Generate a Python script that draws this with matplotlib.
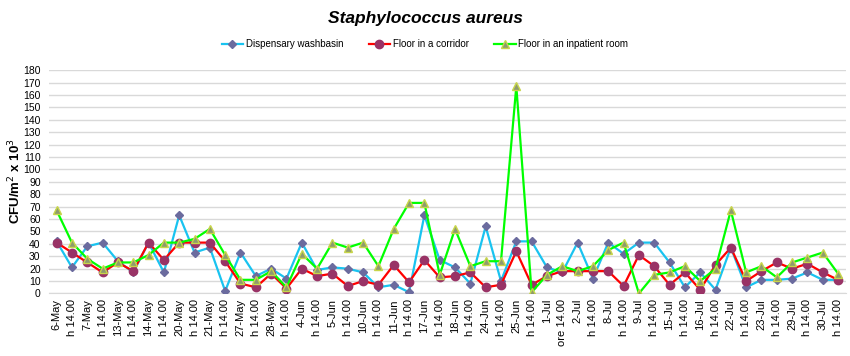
import matplotlib
matplotlib.use('Agg')
import matplotlib.pyplot as plt
from matplotlib import font_manager

# pick a narrow sans face if one is there
names = set(f.name for f in font_manager.fontManager.ttflist)
if 'Liberation Sans Narrow' in names:
    narrow = 'Liberation Sans Narrow'
else:
    narrow = 'Liberation Sans'
plt.rcParams['font.family'] = [narrow, 'DejaVu Sans']

dates = ['6-May', '7-May', '13-May', '14-May', '20-May', '21-May', '27-May', '28-May',
         '4-Jun', '5-Jun', '10-Jun', '11-Jun', '17-Jun', '18-Jun', '24-Jun', '25-Jun',
         '1-Jul', '2-Jul', '8-Jul', '9-Jul', '15-Jul', '16-Jul', '22-Jul', '23-Jul',
         '29-Jul', '30-Jul']
labels = []
for d in dates:
    labels.append(d)
    if d == '1-Jul':
        labels.append('ore 14.00')
    else:
        labels.append('h 14.00')

washbasin = [42, 21, 38, 41, 26, 17, 41, 17, 63, 33, 37, 2, 33, 14, 20, 12,
             41, 19, 21, 20, 17, 5, 7, 1, 63, 27, 21, 8, 54, 10, 42, 42,
             21, 17, 41, 12, 41, 32, 41, 41, 25, 5, 17, 3, 37, 5, 11, 11,
             12, 17, 11, 11]
corridor = [41, 33, 25, 17, 25, 18, 41, 27, 41, 41, 41, 26, 8, 5, 16, 4,
            20, 14, 16, 6, 10, 7, 23, 9, 27, 13, 14, 17, 5, 7, 34, 7,
            14, 18, 18, 18, 18, 6, 31, 22, 7, 17, 3, 23, 37, 10, 18, 25,
            20, 24, 17, 11]
inpatient = [67, 41, 28, 20, 25, 25, 31, 41, 41, 44, 52, 31, 11, 11, 18, 5,
             32, 20, 41, 37, 41, 22, 52, 73, 73, 15, 52, 22, 26, 26, 167, 1,
             15, 22, 18, 22, 35, 41, 0, 15, 17, 22, 10, 20, 67, 17, 22, 13,
             25, 29, 33, 16]

x = list(range(len(labels)))

fig = plt.figure(figsize=(8.5, 3.56), dpi=100)
ax = fig.add_axes([0.0576, 0.1756, 0.9374, 0.6274])

ax.plot(x, washbasin, color='#19C3F0', linewidth=1.6, marker='D', markersize=4.5,
        markerfacecolor='#6B6B9E', markeredgecolor='#6B6B9E', label='Dispensary washbasin', zorder=3)
ax.plot(x, corridor, color='#FF0000', linewidth=1.6, marker='o', markersize=6,
        markerfacecolor='#993366', markeredgecolor='#993366', label='Floor in a corridor', zorder=4)
ax.plot(x, inpatient, color='#00FF00', linewidth=1.6, marker='^', markersize=6,
        markerfacecolor='#8E9A6E', markeredgecolor='#C8D64A', label='Floor in an inpatient room', zorder=5)

ax.set_xlim(-0.5, len(labels) - 0.5)
ax.set_ylim(0, 180)
ax.set_yticks(range(0, 181, 10))
ax.set_xticks(x)
ax.set_xticklabels(labels, rotation=90, fontsize=8)
ax.tick_params(axis='y', labelsize=7.5, length=0, pad=6)
ax.tick_params(axis='x', length=0, pad=4)
ax.grid(True, axis='y', color='#D9D9D9', linewidth=1)
ax.set_axisbelow(True)
for s in ['top', 'right', 'left']:
    ax.spines[s].set_visible(False)
ax.spines['bottom'].set_color('#D9D9D9')

fig.text(0.018, 0.49, 'CFU/m$^2$ x 10$^3$', rotation=90, ha='center', va='center',
         fontsize=9.5, fontweight='bold', family='Liberation Sans')

fig.text(0.5, 0.948, 'Staphylococcus aureus', ha='center', va='center',
         fontsize=12.5, fontweight='bold', fontstyle='italic', family='Liberation Sans')
fig.legend(loc='center', bbox_to_anchor=(0.5, 0.876), ncol=3, frameon=False,
           fontsize=7, handlelength=2.2, columnspacing=2.6, handletextpad=0.3)

plt.savefig('out.png', dpi=100)
